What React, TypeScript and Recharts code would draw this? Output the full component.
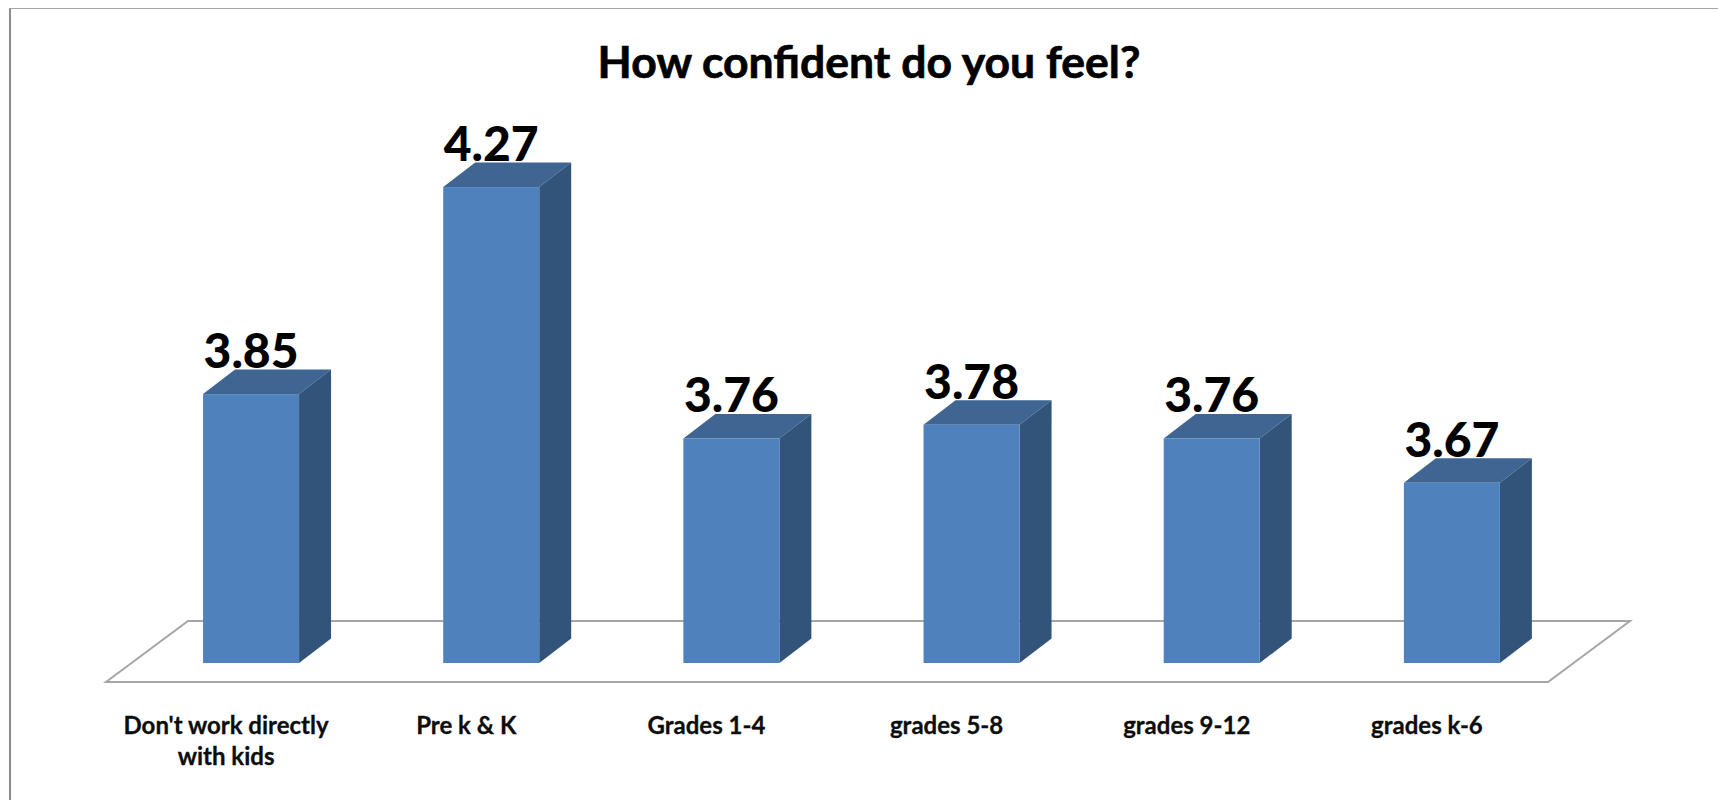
import { BarChart, Bar, XAxis, YAxis, LabelList, usePlotArea } from 'recharts';

const categories = ["Don't work directly with kids", 'Pre k & K', 'Grades 1-4', 'grades 5-8', 'grades 9-12', 'grades k-6'];
const confidence = [3.85, 4.27, 3.76, 3.788, 3.76, 3.67];
const valueLabels = ['3.85', '4.27', '3.76', '3.78', '3.76', '3.67'];
const categoryLines: Record<string, string[]> = {
  "Don't work directly with kids": ["Don't work directly", 'with kids'],
};

const data = categories.map((name, i) => ({ name, value: confidence[i], label: valueLabels[i] }));

const LABEL_FONT = 'Lato, "Open Sans", sans-serif';
const DEPTH_X = 32;
const DEPTH_Y = 24.5;

// 3D look: front face plus the top and side faces offset by the depth
const Bar3D = ({ x, y, width, height }: any) => {
  const right = x + width;
  const bottom = y + height;
  return (
    <g>
      <path
        d={`M${x},${y} L${x + DEPTH_X},${y - DEPTH_Y} L${right + DEPTH_X},${y - DEPTH_Y} L${right},${y} Z`}
        fill="#3f6592"
      />
      <path
        d={`M${right},${y} L${right + DEPTH_X},${y - DEPTH_Y} L${right + DEPTH_X},${bottom - DEPTH_Y} L${right},${bottom} Z`}
        fill="#32547a"
      />
      <rect x={x} y={y} width={width} height={height} fill="#4f81bd" />
    </g>
  );
};

// Floor of the 3D plot, placed relative to the plot area
const Floor = () => {
  const plot = usePlotArea();
  if (!plot) return null;
  const left = plot.x;
  const right = plot.x + plot.width;
  const bottom = plot.y + plot.height;
  return (
    <path
      d={`M${left - 25},${bottom + 19} L${left + 57},${bottom - 42} L${right + 58},${bottom - 42} L${right - 24},${bottom + 19} Z`}
      fill="#fff"
      stroke="#a6a6a6"
      strokeWidth={2}
    />
  );
};

const CategoryTick = ({ x, y, payload }: any) => {
  const lines = categoryLines[payload.value] ?? [payload.value];
  return (
    <text
      x={x - 25}
      y={y + 65}
      textAnchor="middle"
      fontFamily={LABEL_FONT}
      fontWeight={700}
      fontSize={24}
      fill="#0d0d0d"
      stroke="#0d0d0d"
      strokeWidth={0.3}
    >
      {lines.map((line: string, i: number) => (
        <tspan key={line} x={x - 25} dy={i === 0 ? 0 : 31}>
          {line}
        </tspan>
      ))}
    </text>
  );
};

const ValueLabel = ({ x, y, width, value }: any) => (
  <text
    x={x + width / 2}
    y={y - 26}
    textAnchor="middle"
    fontFamily={LABEL_FONT}
    fontWeight={900}
    fontSize={48}
    fill="#000"
  >
    {value}
  </text>
);

export default function App() {
  return (
    <div style={{ position: 'absolute', left: 0, top: 0, width: 1718, height: 800, background: '#fff', overflow: 'hidden' }}>
      <div style={{ position: 'absolute', left: 9, top: 8, right: 0, bottom: 0, borderTop: '1px solid #a6a6a6', borderLeft: '2px solid #8c8c8c' }} />
      <div style={{ position: 'absolute', left: 0, top: 0 }}>
        <BarChart
          width={1718}
          height={800}
          data={data}
          margin={{ top: 123, right: 146, bottom: 37, left: 131 }}
          barCategoryGap="30%"
        >
          <Floor />
          <XAxis
            dataKey="name"
            interval={0}
            height={100}
            axisLine={false}
            tickLine={false}
            tickMargin={0}
            tick={<CategoryTick />}
          />
          <YAxis hide domain={[3.3044, 4.4]} />
          <Bar dataKey="value" shape={<Bar3D />} isAnimationActive={false}>
            <LabelList dataKey="label" content={<ValueLabel />} />
          </Bar>
          <text
            x={869}
            y={78}
            textAnchor="middle"
            fontFamily={LABEL_FONT}
            fontWeight={700}
            fontSize={44.5}
            fill="#000"
            stroke="#000"
            strokeWidth={0.7}
          >
            How confident do you feel?
          </text>
        </BarChart>
      </div>
    </div>
  );
}
